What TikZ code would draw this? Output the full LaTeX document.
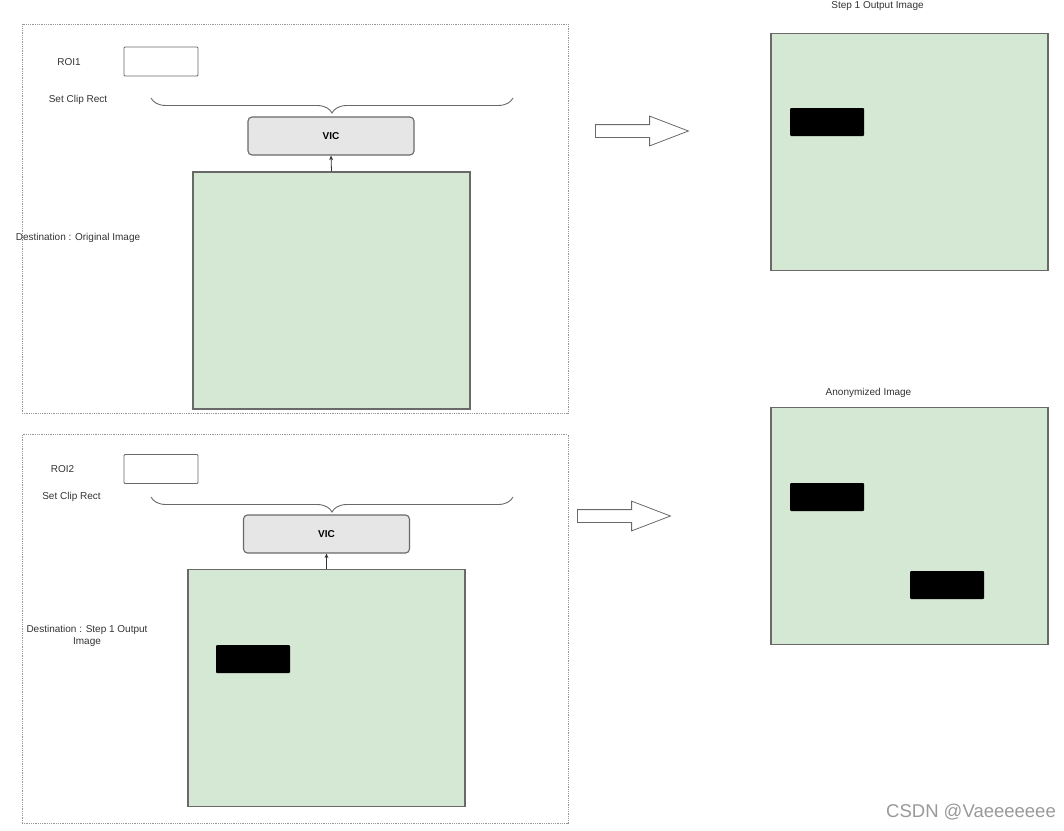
\documentclass[tikz,border=0pt]{standalone}
\usepackage{fontspec}
\setmainfont{Liberation Sans}
\usetikzlibrary{arrows.meta,positioning,shapes.arrows,decorations.pathreplacing}
\definecolor{cImg}  {RGB}{213,232,212}
\definecolor{cVic}  {RGB}{230,230,230}
\definecolor{cEdge} {RGB}{105,105,105}
\definecolor{cStage}{RGB}{150,150,150}
\tikzset{
  >={Stealth[length=1.6mm,width=1.4mm]},
  lbl/.style={font=\fontsize{10}{11.5}\selectfont,text=black!80,inner sep=1pt,align=center},
  stage/.style={draw=cStage,densely dotted,line width=0.8pt,minimum width=546,minimum height=389,inner sep=0pt},
  imgbox/.style={draw=cEdge,line width=1.1pt,fill=cImg,minimum width=277,minimum height=237,inner sep=0pt},
  roibox/.style={draw=cEdge,line width=0.9pt,fill=white,rounded corners=1pt,minimum width=74,minimum height=29,inner sep=0pt},
  vicbox/.style={draw=cEdge,line width=1.1pt,fill=cVic,rounded corners=4pt,minimum width=166,minimum height=38,
                 inner sep=0pt,font=\fontsize{10}{11}\selectfont\bfseries},
  mask/.style={fill=black,rounded corners=1pt,minimum width=74,minimum height=28,inner sep=0pt},
  flow/.style={single arrow,draw=cEdge,line width=0.8pt,fill=white,minimum height=93,inner xsep=0pt,inner ysep=6pt,
               single arrow head extend=8.5pt,single arrow tip angle=42,shape border rotate=0,anchor=west},
  clipbrace/.style={draw=cEdge,line width=0.9pt,decorate,decoration={brace,mirror,amplitude=15pt}},
  feed/.style={->,draw=black!80,line width=0.8pt},
}
\begin{document}
\begin{tikzpicture}[x=1pt,y=-1pt]
  \useasboundingbox (0,0) rectangle (1064,830);
  % step 1 : clip ROI1 into the original image
  \node[stage] (stageA) at (295,218.5) {};
  \node[lbl] (roiAlab) at (69,62) {ROI1};
  \node[roibox] (roiA) at (161,61.5) {};
  \node[lbl] (clipAlab) at (78,100) {Set Clip Rect};
  \node[vicbox] (vicA) at (331,136) {VIC};
  \node[imgbox] (orig) at (331.5,290.5) {};
  \node[lbl] (origlab) at (78,238) {Destination : Original Image};
  \draw[clipbrace] (151,98) -- (513,98);
  \draw[feed] (orig.north) -- (vicA.south);
  % step 2 : clip ROI2 into the step 1 output
  \node[stage] (stageB) at (295,629) {};
  \node[lbl] (roiBlab) at (62.5,469) {ROI2};
  \node[roibox] (roiB) at (161,469) {};
  \node[lbl] (clipBlab) at (71.5,497) {Set Clip Rect};
  \node[vicbox] (vicB) at (326.5,534) {VIC};
  \node[imgbox] (stepin) at (326.5,688) {};
  \node[mask] (maskin) at (253,659) {};
  \node[lbl] (stepinlab) at (87,636) {Destination : Step 1 Output\\Image};
  \draw[clipbrace] (151,497) -- (513,497);
  \draw[feed] (stepin.north) -- (vicB.south);
  % results
  \node[flow] (flowA) at (595,131) {};
  \node[imgbox] (stepout) at (909.5,152) {};
  \node[mask] (maskA) at (827,122) {};
  \node[lbl,above=21pt of stepout.north,xshift=-32pt] (stepoutlab) {Step 1 Output Image};
  \node[flow] (flowB) at (577,516) {};
  \node[imgbox] (anon) at (909.5,526) {};
  \node[mask] (maskB) at (827,497) {};
  \node[mask] (maskC) at (947,585) {};
  \node[lbl,above=8pt of anon.north,xshift=-41pt] (anonlab) {Anonymized Image};
  \node[font=\fontsize{18.5}{20}\selectfont,text=black!40] (mark) at (971,812) {CSDN @Vaeeeeeee};
\end{tikzpicture}
\end{document}
